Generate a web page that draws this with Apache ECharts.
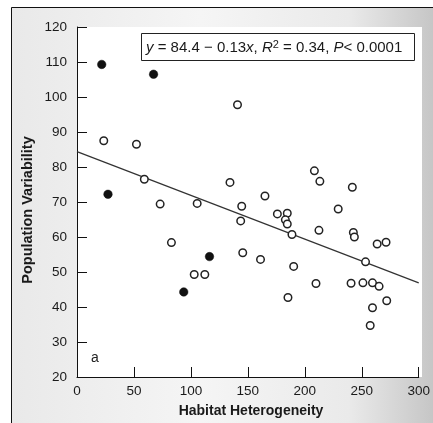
<!DOCTYPE html>
<html>
<head>
<meta charset="utf-8">
<script src="https://cdn.jsdelivr.net/npm/echarts@6/dist/echarts.min.js"></script>
<style>
html,body{margin:0;padding:0;background:#fff;}
#chart{width:433px;height:423px;}
</style>
</head>
<body>
<div id="chart"></div>
<script>
// Open-circle sites: [habitat heterogeneity, population variability]
var openPoints = [
  [140.9, 97.8], [23.5, 87.5], [52.2, 86.5], [59.1, 76.5], [134.3, 75.6],
  [208.4, 78.9], [213.2, 75.9], [241.7, 74.2], [73.0, 69.4], [105.5, 69.6],
  [82.9, 58.4], [102.9, 49.3], [112.2, 49.3], [144.6, 68.8], [165.0, 71.7],
  [143.7, 64.6], [175.9, 66.6], [184.6, 66.8], [182.9, 64.9], [184.6, 63.7],
  [188.7, 60.7], [229.3, 68.0], [212.4, 61.9], [242.6, 61.3], [243.5, 60.0],
  [263.5, 58.0], [271.3, 58.5], [145.5, 55.5], [161.1, 53.6], [190.2, 51.6],
  [253.3, 52.9], [209.8, 46.7], [240.6, 46.8], [251.0, 46.9], [259.4, 46.9],
  [265.2, 45.9], [185.2, 42.7], [271.9, 41.8], [259.4, 39.8], [257.4, 34.7]
];
// Filled-circle sites
var filledPoints = [
  [21.7, 109.3], [67.2, 106.5], [27.2, 72.2], [116.3, 54.4], [93.7, 44.3]
];
// Regression line endpoints (x, fitted y)
var fitLine = [[0, 84.4], [300, 46.9]];
var xTicks = { min: 0, max: 300, interval: 50 };
var yTicks = { min: 20, max: 120, interval: 10 };
var xTitle = 'Habitat Heterogeneity';
var yTitle = 'Population Variability';
var panelLabel = 'a';

var chart = echarts.init(document.getElementById('chart'), null, { renderer: 'canvas' });
var FONT = 'Liberation Sans, Arial, Helvetica, sans-serif';

var option = {
  animation: false,
  backgroundColor: '#ffffff',
  graphic: [
    {
      type: 'rect', z: -10, silent: true,
      shape: { x: 11, y: 7, width: 422, height: 416 },
      style: {
        fill: new echarts.graphic.LinearGradient(0, 0, 1, 0, [
          { offset: 0, color: '#e9e9e9' },
          { offset: 0.45, color: '#f5f5f5' },
          { offset: 0.8, color: '#eaeaea' },
          { offset: 1, color: '#c6c6c6' }
        ]),
        stroke: null
      }
    },
    {
      type: 'rect', z: -9, silent: true,
      shape: { x: 77, y: 27, width: 345, height: 350 },
      style: { fill: '#ffffff' }
    },
    {
      type: 'polyline', z: 10, silent: true,
      shape: { points: [[11.5, 423], [11.5, 7.5], [433, 7.5]] },
      style: { stroke: '#111', lineWidth: 1, fill: null }
    },
    {
      type: 'rect', z: 10, silent: true,
      shape: { x: 141.5, y: 33.5, width: 273, height: 27 },
      style: { fill: '#ffffff', stroke: '#222', lineWidth: 1 }
    },
    {
      type: 'text', z: 11, silent: true,
      x: 146, y: 48,
      style: {
        text: '{i|y} = 84.4 \u2212 0.13{i|x}, {i|R}{s|2} = 0.34, {i|P}< 0.0001',
        font: '15px ' + FONT,
        fill: '#1a1a1a',
        verticalAlign: 'middle',
        align: 'left',
        rich: {
          i: { fontStyle: 'italic', fontSize: 15, fontFamily: FONT, fill: '#1a1a1a' },
          s: { fontSize: 11, fontFamily: FONT, fill: '#1a1a1a', padding: [0, 0, 7, 0] }
        }
      }
    },
    {
      type: 'text', z: 11, silent: true,
      x: 95, y: 358,
      style: { text: panelLabel, font: '14px ' + FONT, fill: '#222', align: 'center', verticalAlign: 'middle' }
    },
    {
      type: 'text', z: 11, silent: true,
      x: 251, y: 411,
      style: { text: xTitle, font: 'bold 14px ' + FONT, fill: '#1a1a1a', align: 'center', verticalAlign: 'middle' }
    },
    {
      type: 'text', z: 11, silent: true,
      x: 28, y: 210, rotation: Math.PI / 2,
      style: { text: yTitle, font: 'bold 14.5px ' + FONT, fill: '#1a1a1a', align: 'center', verticalAlign: 'middle' }
    }
  ],
  grid: { left: 77, top: 27, width: 345, height: 350, containLabel: false },
  xAxis: {
    type: 'value', min: xTicks.min, max: xTicks.max, interval: xTicks.interval,
    axisLine: { show: true, onZero: false, lineStyle: { color: '#111', width: 1 } },
    axisTick: { show: true, inside: true, length: 10, lineStyle: { color: '#111', width: 1 } },
    axisLabel: { color: '#1a1a1a', fontSize: 13.5, fontFamily: FONT, margin: 7 },
    splitLine: { show: false }
  },
  yAxis: {
    type: 'value', min: yTicks.min, max: yTicks.max, interval: yTicks.interval,
    axisLine: { show: true, onZero: false, lineStyle: { color: '#111', width: 1 } },
    axisTick: { show: true, inside: true, length: 10, lineStyle: { color: '#111', width: 1 } },
    axisLabel: { color: '#1a1a1a', fontSize: 13.5, fontFamily: FONT, margin: 10 },
    splitLine: { show: false }
  },
  series: [
    {
      type: 'line', data: fitLine, symbol: 'none', z: 2,
      lineStyle: { color: '#333', width: 1.2 }
    },
    {
      type: 'scatter', data: openPoints, symbol: 'circle', symbolSize: 7.5, z: 3,
      itemStyle: { color: '#ffffff', borderColor: '#222', borderWidth: 1.5, opacity: 1 }
    },
    {
      type: 'scatter', data: filledPoints, symbol: 'circle', symbolSize: 8.5, z: 3,
      itemStyle: { color: '#111', borderColor: '#111', borderWidth: 0.5, opacity: 1 }
    }
  ]
};
chart.setOption(option);
</script>
</body>
</html>
